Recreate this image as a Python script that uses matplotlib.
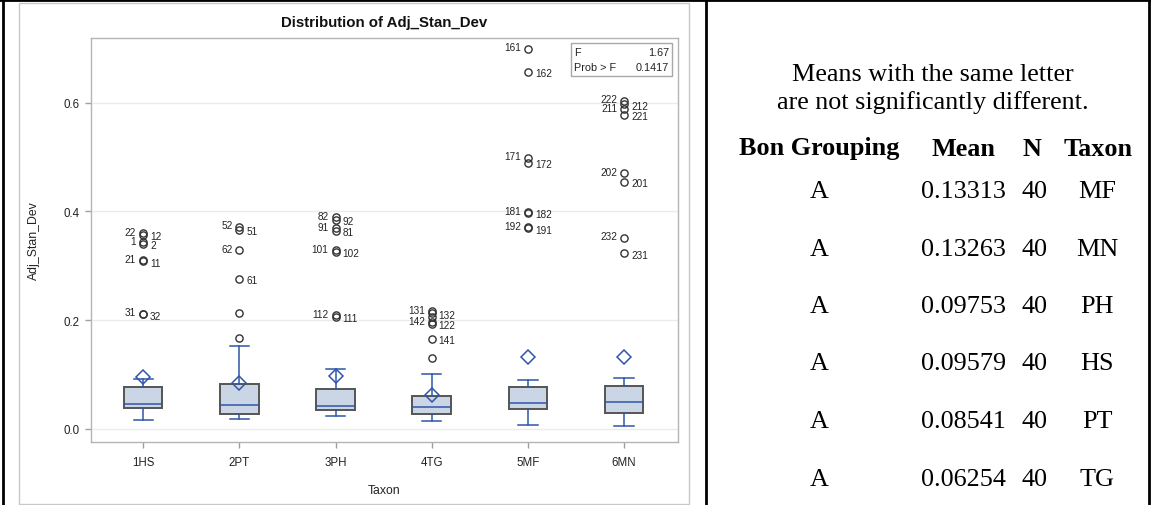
import matplotlib
matplotlib.use("Agg")
import matplotlib.pyplot as plt
from matplotlib.patches import Rectangle
from matplotlib.lines import Line2D

# ---- data -------------------------------------------------------------
taxa = ["1HS", "2PT", "3PH", "4TG", "5MF", "6MN"]
q1 = [0.0386, 0.0276, 0.0343, 0.0276, 0.0362, 0.0294]
median = [0.0460, 0.0448, 0.0423, 0.0400, 0.0478, 0.0503]
q3 = [0.0780, 0.0834, 0.0740, 0.0613, 0.0773, 0.0797]
whisker_low = [0.0166, 0.0178, 0.0239, 0.0153, 0.0068, 0.0055]
whisker_high = [0.0920, 0.1527, 0.1100, 0.1010, 0.0908, 0.0938]

# outliers per taxon (value, observation id; "" = unlabelled)
out_hs = [0.360, 0.357, 0.344, 0.340, 0.310, 0.308, 0.212, 0.211]
ids_hs = ["22", "12", "1", "2", "21", "11", "31", "32"]
out_pt = [0.372, 0.366, 0.329, 0.276, 0.214, 0.168]
ids_pt = ["52", "51", "62", "61", "", ""]
out_ph = [0.390, 0.385, 0.369, 0.364, 0.329, 0.326, 0.209, 0.206]
ids_ph = ["82", "92", "91", "81", "101", "102", "112", "111"]
out_tg = [0.217, 0.213, 0.205, 0.196, 0.193, 0.166, 0.130]
ids_tg = ["131", "132", "", "142", "122", "141", ""]
out_mf = [0.699, 0.657, 0.499, 0.490, 0.399, 0.397, 0.371, 0.369]
ids_mf = ["161", "162", "171", "172", "181", "182", "192", "191"]
out_mn = [0.604, 0.597, 0.588, 0.578, 0.470, 0.454, 0.352, 0.323]
ids_mn = ["222", "212", "211", "221", "202", "201", "232", "231"]

# ANOVA summary
f_value = 1.67
prob_f = 0.1417

# Bonferroni grouping table
bon_group = ["A", "A", "A", "A", "A", "A"]
bon_mean = [0.13313, 0.13263, 0.09753, 0.09579, 0.08541, 0.06254]
bon_n = [40, 40, 40, 40, 40, 40]
bon_taxon = ["MF", "MN", "PH", "HS", "PT", "TG"]

# ---- label placement (left/right of the point) ----------------------
left_ids = {"22", "1", "21", "31", "52", "62", "82", "91", "101", "112",
            "131", "142", "161", "171", "181", "192", "222", "211", "202",
            "232"}

# ---- figure ------------------------------------------------------------
W, H = 1151, 506
fig = plt.figure(figsize=(W / 100, H / 100), dpi=100)
plt.rcParams["font.family"] = ["Liberation Sans", "DejaVu Sans"]


def fx(px):
    return px / W


def fy(py):
    return 1 - py / H


# outer table rules
for x0 in (2.5, 706, 1149):
    fig.add_artist(Line2D([fx(x0), fx(x0)], [0, 1], color="black", lw=2.0,
                          transform=fig.transFigure))
fig.add_artist(Line2D([0, 1], [fy(1.2), fy(1.2)], color="black", lw=2.0,
                      transform=fig.transFigure))

# light grey graph frame
fig.add_artist(Rectangle((fx(19), fy(505)), fx(689) - fx(19), fy(4) - fy(505),
                         transform=fig.transFigure, fill=False,
                         edgecolor="#c8c8c8", lw=1.0))

ax = fig.add_axes([fx(90.7), fy(443), fx(677.7) - fx(90.7), fy(39) - fy(443)])

outliers = [out_hs, out_pt, out_ph, out_tg, out_mf, out_mn]
out_ids = [ids_hs, ids_pt, ids_ph, ids_tg, ids_mf, ids_mn]
mean_lookup = dict(zip(bon_taxon, bon_mean))

stats = []
for i, t in enumerate(taxa):
    stats.append(dict(label=t, q1=q1[i], med=median[i], q3=q3[i],
                      whislo=whisker_low[i], whishi=whisker_high[i],
                      mean=mean_lookup[t[1:]], fliers=outliers[i]))

blue = "#2f56a8"
positions = list(range(1, len(taxa) + 1))
ax.bxp(stats, positions=positions, widths=0.4, capwidths=0.2,
       showmeans=True, patch_artist=True,
       boxprops=dict(facecolor="#cad5e5", edgecolor="#555555", lw=1.4),
       medianprops=dict(color=blue, lw=1.1),
       whiskerprops=dict(color=blue, lw=1.1),
       capprops=dict(color=blue, lw=1.1),
       meanprops=dict(marker="D", markerfacecolor="none",
                      markeredgecolor=blue, markersize=7.5, markeredgewidth=1.1),
       flierprops=dict(marker="o", markerfacecolor="none",
                       markeredgecolor="#333333", markersize=5.2,
                       markeredgewidth=1.0))

for pos, vals, ids in zip(positions, outliers, out_ids):
    for v, lab in zip(vals, ids):
        if not lab:
            continue
        if lab in left_ids:
            ax.annotate(lab, (pos, v), xytext=(-5, 1), textcoords="offset points",
                        ha="right", va="center", fontsize=7.2, color="#222222")
        else:
            ax.annotate(lab, (pos, v), xytext=(5, -1), textcoords="offset points",
                        ha="left", va="center", fontsize=7.2, color="#222222")

ax.set_xlim(0.455, 6.557)
ax.set_ylim(-0.024, 0.719)
ax.set_yticks([0.0, 0.2, 0.4, 0.6])
ax.set_yticklabels(["0.0", "0.2", "0.4", "0.6"])
ax.set_xticks(positions)
ax.set_xticklabels(taxa)
ax.grid(axis="y", color="#ebebeb", lw=1.0)
ax.set_axisbelow(True)
for s in ax.spines.values():
    s.set_color("#b4b4b4")
    s.set_linewidth(1.0)
ax.tick_params(axis="both", direction="out", length=4, width=1.0,
               color="#a0a0a0", labelsize=8.3, labelcolor="#222222")
ax.tick_params(axis="x", pad=6)
ax.tick_params(axis="y", pad=4)

ax.set_ylabel("Adj_Stan_Dev", fontsize=8.8, color="#222222")
ax.yaxis.set_label_coords(-0.086, 0.5)
ax.set_xlabel("Taxon", fontsize=8.8, color="#222222")
ax.xaxis.set_label_coords(0.5, -0.103)

fig.text(fx(384), fy(23), "Distribution of Adj_Stan_Dev", ha="center",
         va="center", fontsize=10.8, fontweight="bold", color="#111111")

# ANOVA inset
ax.add_patch(Rectangle((0.818, 0.906), 0.172, 0.082, transform=ax.transAxes,
                       fill=False, edgecolor="#a8a8a8", lw=1.0, zorder=5))
ax.text(0.824, 0.965, "F", transform=ax.transAxes, ha="left", va="center",
        fontsize=7.8, color="#222222")
ax.text(0.985, 0.965, f"{f_value:.2f}", transform=ax.transAxes, ha="right",
        va="center", fontsize=7.8, color="#222222")
ax.text(0.824, 0.927, "Prob > F", transform=ax.transAxes, ha="left",
        va="center", fontsize=7.8, color="#222222")
ax.text(0.985, 0.927, f"{prob_f:.4f}", transform=ax.transAxes, ha="right",
        va="center", fontsize=7.8, color="#222222")

# ---- grouping table ---------------------------------------------------
serif = ["Liberation Serif", "DejaVu Serif"]
fs = 18.8
fig.text(fx(933), fy(75), "Means with the same letter", ha="center",
         va="center", fontsize=fs, family=serif)
fig.text(fx(933), fy(103), "are not significantly different.", ha="center",
         va="center", fontsize=fs, family=serif)

hy = fy(149)
fig.text(fx(819), hy, "Bon Grouping", ha="center", va="center", fontsize=fs,
         family=serif, fontweight="bold")
fig.text(fx(964), hy, "Mean", ha="center", va="center", fontsize=fs,
         family=serif, fontweight="bold")
fig.text(fx(1032), hy, "N", ha="center", va="center", fontsize=fs,
         family=serif, fontweight="bold")
fig.text(fx(1098), hy, "Taxon", ha="center", va="center", fontsize=fs,
         family=serif, fontweight="bold")

row_y = [192, 250, 307, 364, 422, 480]
for ry, g, m, n, t in zip(row_y, bon_group, bon_mean, bon_n, bon_taxon):
    fig.text(fx(819), fy(ry), g, ha="center", va="center", fontsize=fs,
             family=serif)
    fig.text(fx(921), fy(ry), f"{m:.5f}", ha="left", va="center", fontsize=fs,
             family=serif)
    fig.text(fx(1021), fy(ry), f"{n}", ha="left", va="center", fontsize=fs,
             family=serif)
    fig.text(fx(1097), fy(ry), t, ha="center", va="center", fontsize=fs,
             family=serif)

fig.savefig("out.png", dpi=100)
